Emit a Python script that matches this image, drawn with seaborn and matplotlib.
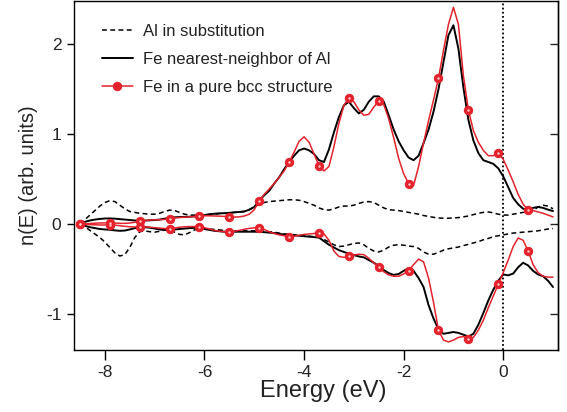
import numpy as np
import matplotlib
matplotlib.use("Agg")
import matplotlib.pyplot as plt
import seaborn as sns

# Energy grid (eV), relative to the Fermi level
energy = np.round(np.linspace(-8.5, 1.0, 96), 2)

# Al atom in substitution (spin up / spin down)
al_up = [
    0.000, 0.050, 0.100, 0.150, 0.200, 0.240, 0.260, 0.250, 0.210, 0.170,
    0.140, 0.130, 0.120, 0.115, 0.110, 0.110, 0.120, 0.140, 0.155, 0.150,
    0.130, 0.110, 0.100, 0.100, 0.100, 0.100, 0.105, 0.110, 0.115, 0.120,
    0.125, 0.130, 0.135, 0.140, 0.160, 0.190, 0.220, 0.240, 0.250, 0.255,
    0.260, 0.265, 0.270, 0.270, 0.265, 0.250, 0.230, 0.210, 0.180, 0.160,
    0.155, 0.170, 0.190, 0.200, 0.200, 0.210, 0.230, 0.245, 0.250, 0.240,
    0.210, 0.180, 0.160, 0.155, 0.150, 0.140, 0.130, 0.120, 0.110, 0.095,
    0.085, 0.075, 0.068, 0.065, 0.065, 0.068, 0.072, 0.080, 0.090, 0.105,
    0.120, 0.130, 0.135, 0.125, 0.110, 0.100, 0.100, 0.110, 0.120, 0.130,
    0.135, 0.150, 0.190, 0.210, 0.200, 0.170,
]
al_dn = [
    0.000, -0.030, -0.070, -0.110, -0.150, -0.200, -0.260, -0.320, -0.355, -0.340,
    -0.260, -0.150, -0.085, -0.075, -0.085, -0.090, -0.080, -0.065, -0.065, -0.090,
    -0.115, -0.120, -0.095, -0.065, -0.050, -0.050, -0.055, -0.060, -0.065, -0.070,
    -0.072, -0.075, -0.075, -0.075, -0.075, -0.075, -0.078, -0.080, -0.085, -0.090,
    -0.100, -0.110, -0.115, -0.120, -0.125, -0.130, -0.135, -0.140, -0.150, -0.170,
    -0.200, -0.230, -0.250, -0.245, -0.230, -0.215, -0.210, -0.230, -0.270, -0.300,
    -0.310, -0.290, -0.255, -0.235, -0.230, -0.235, -0.245, -0.250, -0.270, -0.310,
    -0.335, -0.335, -0.315, -0.290, -0.275, -0.265, -0.255, -0.240, -0.225, -0.210,
    -0.195, -0.175, -0.160, -0.140, -0.130, -0.120, -0.110, -0.100, -0.095, -0.090,
    -0.085, -0.080, -0.075, -0.065, -0.055, -0.050,
]

# Fe atom nearest neighbour of Al (spin up / spin down)
fe_nn_up = [
    0.000, 0.025, 0.040, 0.050, 0.057, 0.062, 0.063, 0.060, 0.055, 0.050,
    0.045, 0.040, 0.037, 0.038, 0.042, 0.045, 0.050, 0.060, 0.070, 0.075,
    0.078, 0.080, 0.082, 0.085, 0.090, 0.100, 0.110, 0.115, 0.120, 0.120,
    0.125, 0.130, 0.135, 0.140, 0.160, 0.190, 0.260, 0.320, 0.370, 0.450,
    0.520, 0.610, 0.690, 0.760, 0.820, 0.840, 0.820, 0.780, 0.710, 0.690,
    0.830, 1.020, 1.190, 1.320, 1.360, 1.290, 1.230, 1.270, 1.360, 1.420,
    1.420, 1.360, 1.210, 1.050, 0.920, 0.820, 0.740, 0.710, 0.760, 0.900,
    1.050, 1.250, 1.500, 1.800, 2.100, 2.210, 1.950, 1.520, 1.160, 0.930,
    0.790, 0.710, 0.690, 0.670, 0.620, 0.530, 0.410, 0.290, 0.220, 0.170,
    0.160, 0.180, 0.190, 0.180, 0.160, 0.145,
]
fe_nn_dn = [
    0.000, -0.020, -0.035, -0.045, -0.055, -0.060, -0.063, -0.070, -0.075, -0.072,
    -0.060, -0.045, -0.035, -0.035, -0.040, -0.050, -0.060, -0.065, -0.065, -0.060,
    -0.055, -0.050, -0.045, -0.042, -0.045, -0.055, -0.065, -0.075, -0.080, -0.085,
    -0.085, -0.085, -0.085, -0.085, -0.085, -0.085, -0.087, -0.090, -0.095, -0.100,
    -0.110, -0.115, -0.120, -0.125, -0.130, -0.135, -0.140, -0.145, -0.150, -0.190,
    -0.230, -0.260, -0.290, -0.310, -0.330, -0.345, -0.360, -0.370, -0.400, -0.430,
    -0.465, -0.510, -0.545, -0.565, -0.555, -0.520, -0.490, -0.520, -0.600, -0.700,
    -0.900, -1.050, -1.170, -1.220, -1.210, -1.200, -1.210, -1.230, -1.250, -1.220,
    -1.120, -0.990, -0.850, -0.730, -0.630, -0.560, -0.570, -0.550, -0.480, -0.430,
    -0.460, -0.520, -0.560, -0.580, -0.630, -0.700,
]

# Fe in pure bcc iron (spin up / spin down)
fe_bcc_up = [
    0.000, 0.003, 0.006, 0.010, 0.012, 0.013, 0.015, 0.012, 0.008, 0.008,
    0.012, 0.020, 0.030, 0.040, 0.045, 0.047, 0.048, 0.052, 0.060, 0.068,
    0.073, 0.077, 0.080, 0.085, 0.090, 0.092, 0.092, 0.090, 0.088, 0.085,
    0.080, 0.078, 0.080, 0.090, 0.110, 0.160, 0.260, 0.330, 0.390, 0.450,
    0.520, 0.590, 0.690, 0.800, 0.920, 0.970, 0.910, 0.780, 0.650, 0.590,
    0.640, 0.860, 1.120, 1.320, 1.400, 1.360, 1.270, 1.210, 1.220, 1.300,
    1.370, 1.330, 1.170, 0.960, 0.730, 0.560, 0.450, 0.430, 0.640, 0.900,
    1.150, 1.380, 1.620, 1.930, 2.220, 2.410, 2.220, 1.650, 1.270, 1.040,
    0.910, 0.820, 0.760, 0.760, 0.790, 0.720, 0.600, 0.470, 0.330, 0.220,
    0.160, 0.150, 0.135, 0.120, 0.100, 0.080,
]
fe_bcc_dn = [
    0.000, -0.003, -0.006, -0.008, -0.010, -0.010, -0.010, -0.012, -0.018, -0.025,
    -0.030, -0.032, -0.030, -0.030, -0.035, -0.040, -0.045, -0.050, -0.050, -0.045,
    -0.035, -0.030, -0.028, -0.028, -0.030, -0.040, -0.055, -0.070, -0.080, -0.085,
    -0.085, -0.080, -0.070, -0.058, -0.048, -0.042, -0.040, -0.060, -0.085, -0.105,
    -0.120, -0.130, -0.140, -0.135, -0.125, -0.115, -0.110, -0.105, -0.100, -0.110,
    -0.180, -0.300, -0.360, -0.370, -0.360, -0.345, -0.335, -0.340, -0.380, -0.430,
    -0.480, -0.530, -0.565, -0.580, -0.580, -0.555, -0.520, -0.450, -0.390, -0.420,
    -0.600, -0.870, -1.180, -1.290, -1.310, -1.290, -1.260, -1.250, -1.280, -1.260,
    -1.180, -1.070, -0.930, -0.800, -0.670, -0.540, -0.400, -0.250, -0.155, -0.180,
    -0.300, -0.450, -0.540, -0.580, -0.590, -0.590,
]

x_ticks = [-8, -6, -4, -2, 0]
y_ticks = [-1, 0, 1, 2]

sns.set_theme(style="ticks")
plt.rcParams["font.family"] = ["Liberation Sans", "DejaVu Sans"]
plt.rcParams["axes.linewidth"] = 1.0

RED = "#e4222c"
DASH = (0, (3.2, 2.2))
EVERY = 6

fig = plt.figure(figsize=(5.67, 4.12), dpi=100)
ax = fig.add_axes([74 / 567, 1 - 350 / 412, (558 - 74) / 567, 349 / 412])

ax.axvline(0, color="black", lw=1.3, ls=(0, (1, 1.3)), zorder=1)

sns.lineplot(x=energy, y=al_up, ax=ax, color="black", lw=1.1, linestyle=DASH,
             label="Al in substitution")
sns.lineplot(x=energy, y=al_dn, ax=ax, color="black", lw=1.1, linestyle=DASH)

sns.lineplot(x=energy, y=fe_bcc_up, ax=ax, color=RED, lw=1.1, marker="o",
             markevery=EVERY, ms=6, mfc=RED, mec=RED, zorder=3,
             label="Fe in a pure bcc structure")
sns.lineplot(x=energy, y=fe_bcc_dn, ax=ax, color=RED, lw=1.1, marker="o",
             markevery=EVERY, ms=6, mfc=RED, mec=RED, zorder=3)

sns.scatterplot(x=energy[::EVERY], y=fe_bcc_up[::EVERY], ax=ax, s=3,
                color="#ffd0d0", linewidth=0, zorder=4)
sns.scatterplot(x=energy[::EVERY], y=fe_bcc_dn[::EVERY], ax=ax, s=3,
                color="#ffd0d0", linewidth=0, zorder=4)

sns.lineplot(x=energy, y=fe_nn_up, ax=ax, color="black", lw=1.4, zorder=2.5,
             label="Fe nearest-neighbor of Al")
sns.lineplot(x=energy, y=fe_nn_dn, ax=ax, color="black", lw=1.4, zorder=2.5)

ax.set_xlim(-8.62, 1.1)
ax.set_ylim(-1.4, 2.48)
ax.set_xticks(x_ticks)
ax.set_xticklabels([str(v) for v in x_ticks])
ax.set_yticks(y_ticks)
ax.set_yticklabels([str(v) for v in y_ticks])
ax.tick_params(axis="both", direction="out", length=5, width=1.0,
               labelsize=12.5, color="black", labelcolor="#222222", pad=4)
ax.tick_params(axis="x", length=7)

right = ax.secondary_yaxis("right")
right.set_yticks(y_ticks)
right.tick_params(direction="in", length=6, width=1.0, labelright=False)

for s in ax.spines.values():
    s.set_color("black")
    s.set_linewidth(1.0)

ax.set_xlabel("Energy (eV)", fontsize=17, color="#222222", labelpad=5)
ax.xaxis.set_label_coords(0.514, -0.085)
ax.set_ylabel("n(E) (arb. units)", fontsize=14.5, color="#222222", labelpad=6)

handles, labels = ax.get_legend_handles_labels()
order = [labels.index("Al in substitution"),
         labels.index("Fe nearest-neighbor of Al"),
         labels.index("Fe in a pure bcc structure")]
leg = ax.legend([handles[i] for i in order], [labels[i] for i in order],
                loc="upper left", bbox_to_anchor=(0.044, 0.953), frameon=False,
                fontsize=12, handlelength=1.85, handletextpad=0.6,
                labelspacing=0.78, borderaxespad=0)
for t in leg.get_texts():
    t.set_color("#222222")

fig.savefig("out.png", dpi=100)
